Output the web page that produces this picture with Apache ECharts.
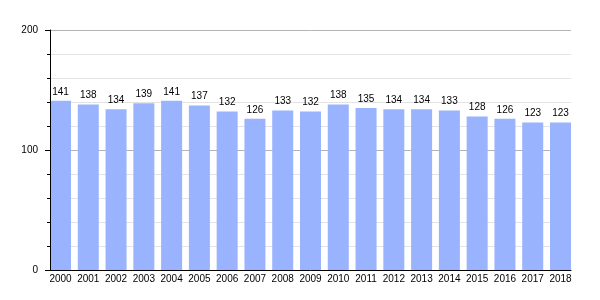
<!DOCTYPE html>
<html><head><meta charset="utf-8">
<script src="https://cdn.jsdelivr.net/npm/echarts@6/dist/echarts.min.js"></script>
<style>html,body{margin:0;padding:0;background:#fff}#c{width:600px;height:300px}</style>
</head><body><div id="c"></div>
<script>
const categories = ['2000','2001','2002','2003','2004','2005','2006','2007','2008','2009','2010','2011','2012','2013','2014','2015','2016','2017','2018'];
const values = [141,138,134,139,141,137,132,126,133,132,138,135,134,134,133,128,126,123,123];
const yTicks = [0,100,200];

const FONT = '"Liberation Sans", Arial, sans-serif';
const idx = categories.map((_, i) => i);
const xMin = -0.378, xMax = categories.length - 1 + 0.378;
const yMin = yTicks[0], yMax = yTicks[yTicks.length - 1];
const chart = echarts.init(document.getElementById('c'), null, {renderer: 'canvas'});
chart.setOption({
  animation: false,
  grid: {left: 50, right: 29, top: 30, bottom: 30, containLabel: false},
  xAxis: [{
    type: 'value', min: xMin, max: xMax,
    splitLine: {show: false}, axisTick: {show: false},
    axisLine: {show: false}, axisLabel: {show: false}
  }, {
    type: 'value', min: xMin, max: xMax, position: 'bottom', z: 5,
    splitLine: {show: false}, axisTick: {show: false},
    axisLine: {show: true, onZero: false, lineStyle: {color: '#000', width: 1}},
    axisLabel: {
      customValues: idx, margin: 4, color: '#000', fontFamily: FONT, fontSize: 10,
      formatter: v => categories[Math.round(v)]
    }
  }],
  yAxis: [{
    type: 'value', min: yMin, max: yMax, interval: 100,
    axisLine: {show: false}, axisTick: {show: false}, axisLabel: {show: false},
    minorTick: {show: false, splitNumber: 5},
    splitLine: {show: true, lineStyle: {color: '#b4b4b4', width: 1}},
    minorSplitLine: {show: true, lineStyle: {color: '#e3e3e3', width: 1}}
  }, {
    type: 'value', min: yMin, max: yMax, interval: 100, position: 'left', z: 5,
    axisLine: {show: true, onZero: false, lineStyle: {color: '#000', width: 1}},
    axisTick: {show: true, length: 5, lineStyle: {color: '#000'}},
    minorTick: {show: true, splitNumber: 5, length: 3, lineStyle: {color: '#000'}},
    splitLine: {show: false}, minorSplitLine: {show: false},
    axisLabel: {margin: 12, color: '#000', fontFamily: FONT, fontSize: 10}
  }],
  series: [{
    type: 'bar', xAxisIndex: 0, yAxisIndex: 0,
    data: values.map((v, i) => [i, v]),
    barWidth: 21,
    itemStyle: {color: '#99b3ff'},
    label: {show: true, position: 'top', distance: 4, color: '#000', fontFamily: FONT, fontSize: 10}
  }]
});
</script></body></html>
